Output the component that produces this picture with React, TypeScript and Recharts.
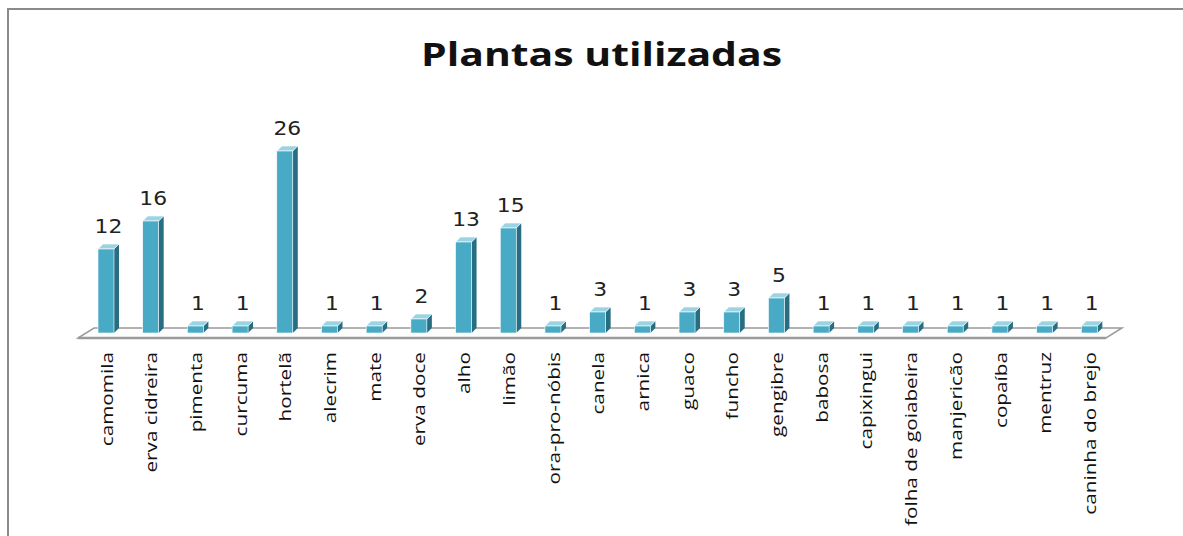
import { Bar, BarChart, LabelList, XAxis, YAxis } from "recharts";

const plantas = [
  "camomila",
  "erva cidreira",
  "pimenta",
  "curcuma",
  "hortelã",
  "alecrim",
  "mate",
  "erva doce",
  "alho",
  "limão",
  "ora-pro-nóbis",
  "canela",
  "arnica",
  "guaco",
  "funcho",
  "gengibre",
  "babosa",
  "capixingui",
  "folha de goiabeira",
  "manjericão",
  "copaíba",
  "mentruz",
  "caninha do brejo",
];

const usos = [12, 16, 1, 1, 26, 1, 1, 2, 13, 15, 1, 3, 1, 3, 3, 5, 1, 1, 1, 1, 1, 1, 1];

const data = plantas.map((nome, i) => ({ nome, usos: usos[i] }));

const W = 1174;
const H = 526;
const XAXIS_H = 195;
const MARGIN = { top: 113, right: 71, bottom: 8, left: 75 };
const PLOT_BOTTOM = H - MARGIN.bottom - XAXIS_H;
const DEPTH = 5;

const FRONT = "#48aac5";
const SIDE = "#276e82";
const TOP = "#9ad4e3";
const FLOOR = "#9b9b9b";

function Floor({ base }: { base: number }) {
  const l = MARGIN.left;
  const r = W - MARGIN.right;
  const back = base - 5;
  const front = base + 5;
  return (
    <g>
      <polygon
        points={`${l + 10},${back} ${r + 10},${back} ${r - 6},${front} ${l - 6},${front}`}
        fill="#fdfdfd"
        stroke={FLOOR}
        strokeWidth={1.5}
      />
      <line x1={l - 6} y1={front} x2={r - 6} y2={front} stroke={FLOOR} strokeWidth={2.5} />
    </g>
  );
}

function Box(props: any) {
  const { x, y, width, height, index } = props;
  const base = y + height;
  const d = DEPTH;
  const r = x + width;
  return (
    <g>
      {index === 0 && <Floor base={base} />}
      <polygon
        points={`${r},${y} ${r + d},${y - d} ${r + d},${base - d} ${r},${base}`}
        fill={SIDE}
      />
      <polygon
        points={`${x},${y} ${x + d},${y - d} ${r + d},${y - d} ${r},${y}`}
        fill={TOP}
        stroke="#ffffff"
        strokeWidth={0.6}
      />
      <rect x={x} y={y} width={width} height={height} fill={FRONT} stroke="#ffffff" strokeWidth={0.6} />
    </g>
  );
}

function ValueLabel(props: any) {
  const { x, y, width, value } = props;
  const lx = x + width / 2 + DEPTH / 2;
  const ly = y - 16;
  return (
    <text
      transform={`translate(${lx} ${ly}) scale(1.15 1)`}
      textAnchor="middle"
      fontFamily="DejaVu Sans"
      fontSize={19}
      fill="#222"
    >
      {value}
    </text>
  );
}

function PlantTick(props: any) {
  const { x, payload } = props;
  const ty = PLOT_BOTTOM + 19;
  return (
    <text
      transform={`translate(${x} ${ty}) rotate(-90) scale(1.22 1)`}
      textAnchor="end"
      dominantBaseline="central"
      fontFamily="Open Sans"
      fontSize={17}
      fill="#111"
    >
      {payload.value}
    </text>
  );
}

export default function App() {
  return (
    <div
      style={{
        position: "fixed",
        left: 0,
        top: 0,
        width: 1183,
        height: 536,
        overflow: "hidden",
        background: "#fff",
      }}
    >
      <div
        style={{
          position: "absolute",
          left: 7,
          top: 8,
          width: W,
          height: H,
          borderLeft: "2px solid #8a8a8a",
          borderTop: "2px solid #8a8a8a",
        }}
      >
        <div
          style={{
            position: "absolute",
            left: 0,
            top: 21,
            width: W,
            textAlign: "center",
            fontFamily: "Open Sans",
            fontWeight: 700,
            fontSize: 33,
            color: "#111",
          }}
        >
          <span style={{ display: "inline-block", transform: "translateX(6px) scaleX(1.24)" }}>
            Plantas utilizadas
          </span>
        </div>
        <BarChart width={W} height={H} data={data} margin={MARGIN}>
          <XAxis
            dataKey="nome"
            interval={0}
            height={XAXIS_H}
            axisLine={false}
            tickLine={false}
            tick={<PlantTick />}
          />
          <YAxis hide domain={[0, 30]} />
          <Bar dataKey="usos" barSize={16} shape={<Box />} isAnimationActive={false}>
            <LabelList dataKey="usos" content={<ValueLabel />} />
          </Bar>
        </BarChart>
      </div>
    </div>
  );
}
